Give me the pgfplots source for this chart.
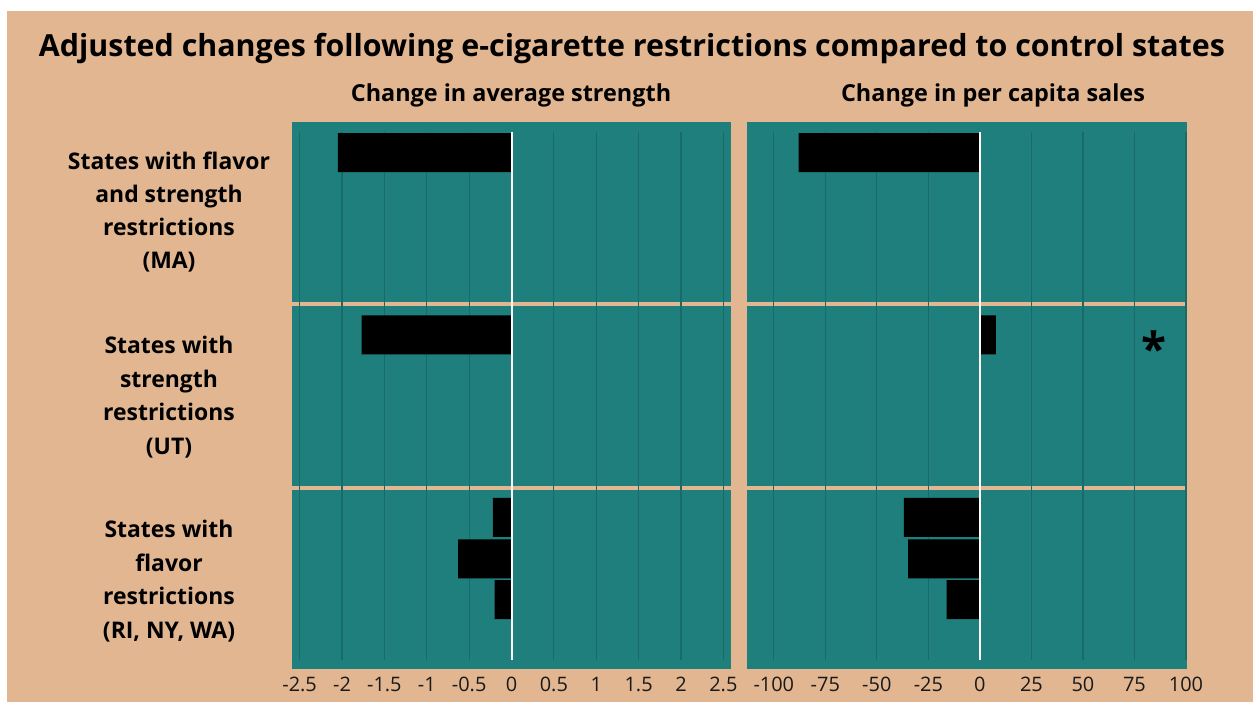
\documentclass[border=0pt]{standalone}
\usepackage{fontspec}
\setmainfont{Open Sans}
\usepackage{pgfplots}
\pgfplotsset{compat=1.18}
\definecolor{bgtan}{HTML}{E1B691}
\definecolor{panel}{HTML}{1E7F7D}
\definecolor{gridc}{HTML}{196B69}

\pgfplotstableread{
y val
152.7 -2.05
335 -1.77
517.5 -0.22
558.8 -0.63
599.5 -0.20
}\strengthtab
\pgfplotstableread{
y val
152.7 -87.9
335 7.8
517.5 -36.9
558.8 -34.8
599.5 -16.2
}\salestab

\pgfplotsset{panelstyle/.style={
  scale only axis, height=528bp, y dir=reverse, ymin=132, ymax=660,
  axis line style={draw=none}, ytick=\empty, xmajorgrids,
  grid style={gridc, line width=1.2bp},
  major tick length=0pt, clip=false,
  xticklabel style={font=\fontsize{20}{20}\selectfont, text=black!90, anchor=base, yshift=-31bp},
}}

\begin{document}
\begin{tikzpicture}[x=1bp,y=1bp]
\fill[white] (0,0) rectangle (1253,702);
\fill[bgtan] (7,0) rectangle (1253,691);
% panels
\fill[panel] (292,33) rectangle (731,580);
\fill[panel] (747,33) rectangle (1187.3,580);
\fill[bgtan] (290,396) rectangle (1190,400);
\fill[bgtan] (290,212) rectangle (1190,216);

\node[anchor=base, font=\bfseries\fontsize{30.5}{30.5}\selectfont] at (632,645)
  {Adjusted changes following e-cigarette restrictions compared to control states};
\node[anchor=base, font=\bfseries\fontsize{23.5}{23.5}\selectfont] at (511,600) {Change in average strength};
\node[anchor=base, font=\bfseries\fontsize{23.5}{23.5}\selectfont] at (993,600) {Change in per capita sales};

\begin{scope}[every node/.style={anchor=base, font=\bfseries\fontsize{23}{23}\selectfont}]
\node at (169,532) {States with flavor};
\node at (169,499) {and strength};
\node at (169,466) {restrictions};
\node at (169,433) {(MA)};
\node at (169,348) {States with};
\node at (169,314) {strength};
\node at (169,281) {restrictions};
\node at (169,247) {(UT)};
\node at (169,164) {States with};
\node at (169,130) {flavor};
\node at (169,97) {restrictions};
\node at (169,63) {(RI, NY, WA)};
\end{scope}

\begin{axis}[panelstyle, at={(292bp,42bp)}, anchor=south west, width=439bp,
  xmin=-2.59, xmax=2.59,
  xtick={-2.5,-2,-1.5,-1,-0.5,0,0.5,1,1.5,2,2.5},
  xticklabels={-2.5,-2,-1.5,-1,-0.5,0,0.5,1,1.5,2,2.5}]
\addplot[xbar, bar width=39, fill=black, draw=none] table[x=val, y=y] {\strengthtab};
\addplot[white, line width=2bp] coordinates {(0,132) (0,660)};
\end{axis}

\begin{axis}[panelstyle, at={(747bp,42bp)}, anchor=south west, width=440.6bp,
  xmin=-113, xmax=100.8,
  xtick={-100,-75,-50,-25,0,25,50,75,100},
  xticklabels={-100,-75,-50,-25,0,25,50,75,100}]
\addplot[xbar, bar width=39, fill=black, draw=none] table[x=val, y=y] {\salestab};
\addplot[white, line width=2bp] coordinates {(0,132) (0,660)};
\node[font=\bfseries\fontsize{46}{46}\selectfont, inner sep=0pt] at (axis cs:84.5,348) {*};
\end{axis}

\pgfresetboundingbox
\path[use as bounding box] (0,0) rectangle (1253,702);
\end{tikzpicture}
\end{document}
